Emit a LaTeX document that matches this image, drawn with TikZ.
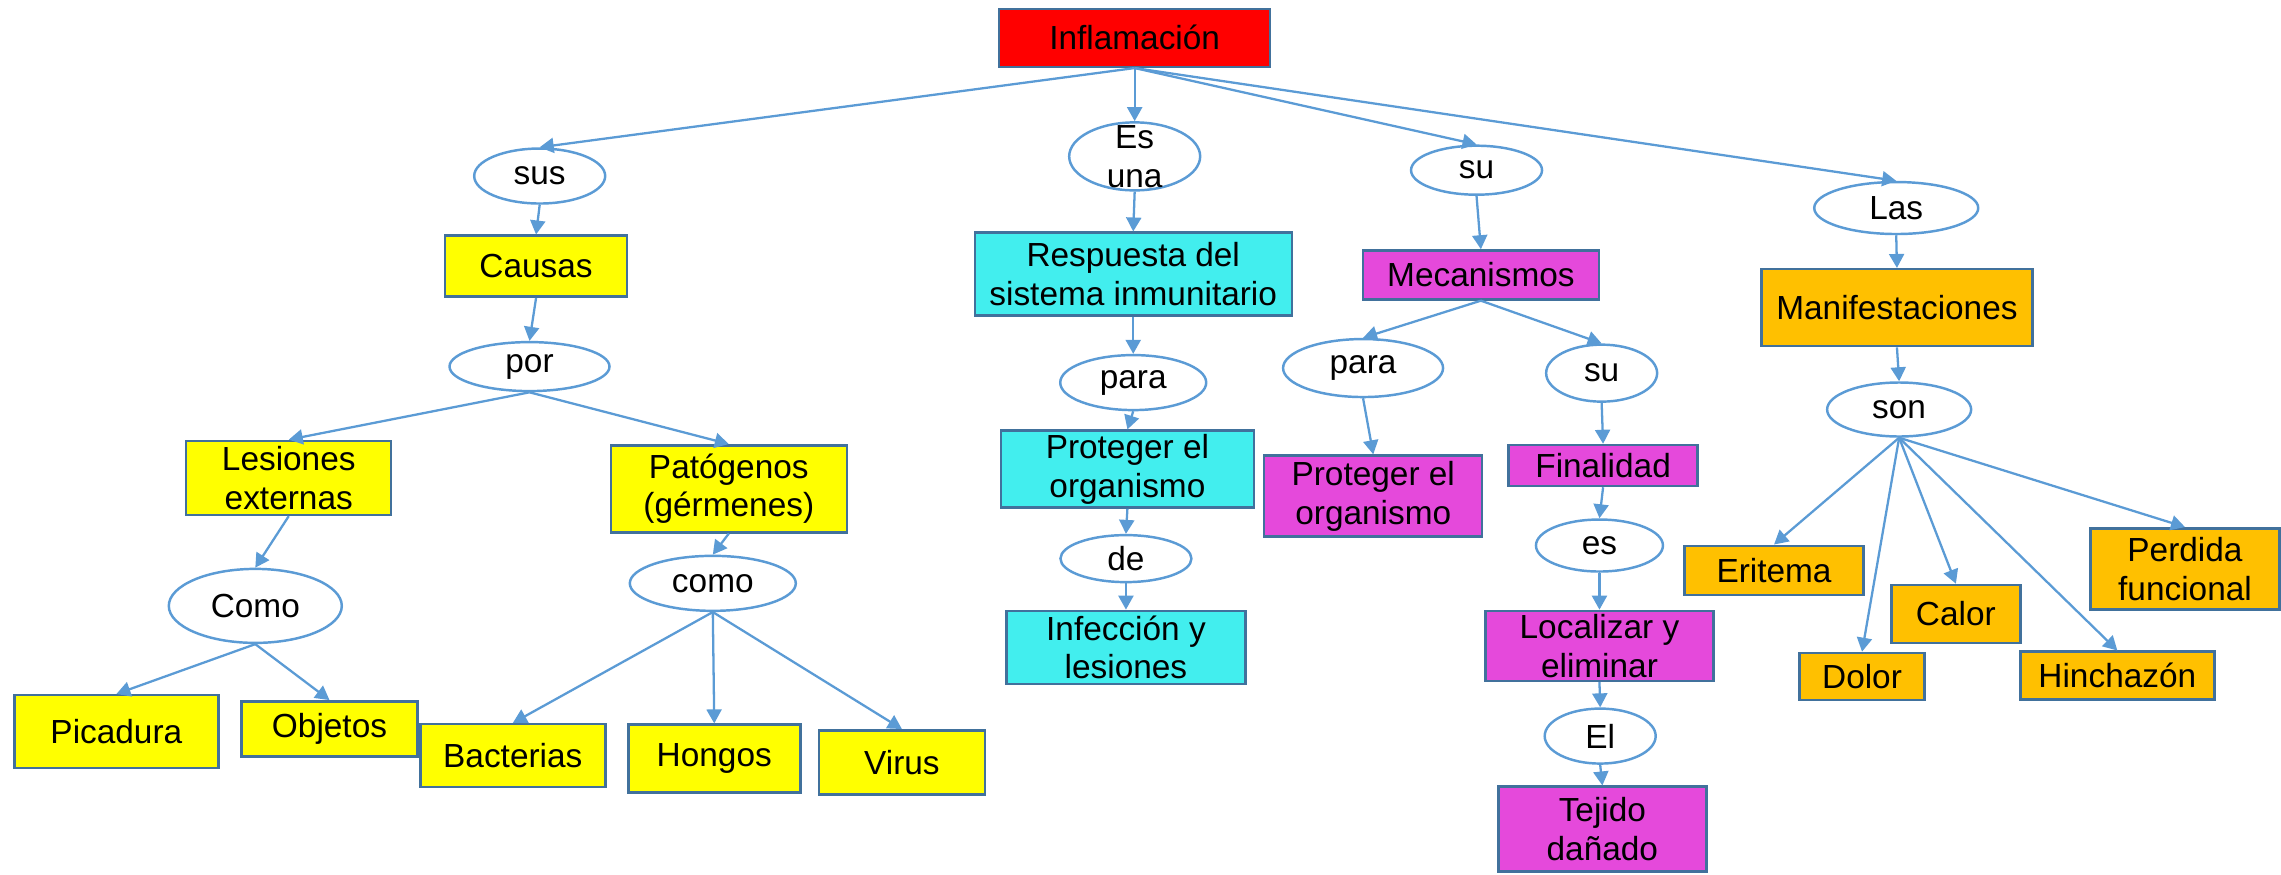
\documentclass[tikz,border=0pt]{standalone}
\usepackage{fontspec}
\setmainfont{Liberation Sans}
\usetikzlibrary{shapes.geometric,arrows.meta}
\definecolor{edgeblue}{HTML}{5B9BD5}
\definecolor{boxline}{HTML}{41719C}
\definecolor{rojo}{HTML}{FF0000}
\definecolor{amarillo}{HTML}{FFFF00}
\definecolor{cian}{HTML}{42EEEE}
\definecolor{fucsia}{HTML}{E549DB}
\definecolor{naranja}{HTML}{FFC000}

\begin{document}
\begin{tikzpicture}[x=0.14547mm,y=-0.14547mm,
	font=\fontsize{9.5}{11}\selectfont,
	concepto/.style={draw=boxline,line width=0.7pt,inner sep=0pt,align=center},
	enlace/.style={ellipse,draw=edgeblue,line width=0.7pt,fill=white,inner sep=0pt,align=center},
	flecha/.style={draw=edgeblue,line width=0.65pt,-{Triangle[length=1.4mm,width=1.5mm]}}]
	\useasboundingbox (0,0) rectangle (1568,601);
	
	% conceptos
	\node[concepto,fill=rojo,minimum width=27.1mm,minimum height=5.8mm] (infl) at (780,26) {Inflamación};
	\node[concepto,fill=amarillo,minimum width=18.2mm,minimum height=6.1mm] (causas) at (368.5,183) {Causas};
	\node[concepto,fill=cian,minimum width=31.7mm,minimum height=8.3mm] (resp) at (779,188.5) {Respuesta del\\sistema inmunitario};
	\node[concepto,fill=fucsia,minimum width=23.6mm,minimum height=4.9mm] (meca) at (1018,189) {Mecanismos};
	\node[concepto,fill=naranja,minimum width=27.1mm,minimum height=7.7mm] (mani) at (1304,211.5) {Manifestaciones};
	\node[concepto,fill=amarillo,minimum width=20.5mm,minimum height=7.4mm] (lesi) at (198.5,328.5) {Lesiones\\externas};
	\node[concepto,fill=amarillo,minimum width=23.6mm,minimum height=8.7mm] (pato) at (501,336) {Patógenos\\(gérmenes)};
	\node[concepto,fill=cian,minimum width=25.3mm,minimum height=7.7mm] (protc) at (775,322.5) {Proteger el\\organismo};
	\node[concepto,fill=fucsia,minimum width=21.8mm,minimum height=8.1mm] (protm) at (944,341) {Proteger el\\organismo};
	\node[concepto,fill=fucsia,minimum width=18.9mm,minimum height=4.1mm] (fina) at (1102,320) {Finalidad};
	\node[concepto,fill=fucsia,minimum width=22.8mm,minimum height=7.0mm] (loca) at (1099.5,444) {Localizar y\\eliminar};
	\node[concepto,fill=cian,minimum width=23.9mm,minimum height=7.3mm] (infe) at (774,445) {Infección y\\lesiones};
	\node[concepto,fill=naranja,minimum width=17.9mm,minimum height=4.9mm] (erit) at (1219.5,392) {Eritema};
	\node[concepto,fill=naranja,minimum width=12.9mm,minimum height=5.8mm] (calor) at (1344.5,422) {Calor};
	\node[concepto,fill=naranja,minimum width=18.9mm,minimum height=8.1mm] (perd) at (1502,391) {Perdida\\funcional};
	\node[concepto,fill=naranja,minimum width=12.5mm,minimum height=4.7mm] (dolor) at (1280,465) {Dolor};
	\node[concepto,fill=naranja,minimum width=19.4mm,minimum height=4.8mm] (hinc) at (1455.5,464.5) {Hinchazón};
	\node[concepto,fill=amarillo,minimum width=20.4mm,minimum height=7.3mm] (pica) at (80,503) {Picadura};
	\node[concepto,fill=amarillo,minimum width=17.6mm,minimum height=5.5mm] (obje) at (226.5,501) {Objetos};
	\node[concepto,fill=amarillo,minimum width=18.5mm,minimum height=6.3mm] (bact) at (352.5,519.5) {Bacterias};
	\node[concepto,fill=amarillo,minimum width=17.2mm,minimum height=6.8mm] (hong) at (491,521.5) {Hongos};
	\node[concepto,fill=amarillo,minimum width=16.6mm,minimum height=6.4mm] (virus) at (620,524) {Virus};
	\node[concepto,fill=fucsia,minimum width=20.8mm,minimum height=8.5mm] (teji) at (1101.5,570) {Tejido\\dañado};
	
	% palabras de enlace
	\node[enlace,minimum width=13.1mm,minimum height=5.5mm] (sus) at (371,121) {sus};
	\node[enlace,minimum width=13.1mm,minimum height=6.8mm,inner ysep=-0.9mm] (esuna) at (780,107.5) {Es\\una};
	\node[enlace,minimum width=13.1mm,minimum height=4.9mm] (su) at (1015,117) {su};
	\node[enlace,minimum width=16.4mm,minimum height=5.2mm] (las) at (1303.5,143) {Las};
	\node[enlace,minimum width=16.0mm,minimum height=4.9mm] (por) at (364,252) {por};
	\node[enlace,minimum width=14.6mm,minimum height=5.5mm] (parac) at (779,263) {para};
	\node[enlace,minimum width=16.0mm,minimum height=5.8mm] (param) at (937,253) {para};
	\node[enlace,minimum width=11.1mm,minimum height=5.7mm] (sudos) at (1101,256.5) {su};
	\node[enlace,minimum width=14.4mm,minimum height=5.4mm] (son) at (1305.5,281.5) {son};
	\node[enlace,minimum width=17.3mm,minimum height=7.4mm] (comoa) at (175.5,416.5) {Como};
	\node[enlace,minimum width=16.6mm,minimum height=5.5mm] (comob) at (490,401) {como};
	\node[enlace,minimum width=13.1mm,minimum height=4.7mm] (de) at (774,384) {de};
	\node[enlace,minimum width=12.7mm,minimum height=5.2mm] (es) at (1099.5,375) {es};
	\node[enlace,minimum width=11.1mm,minimum height=5.5mm] (el) at (1100,506) {El};
	
	% causas
	\draw[flecha] (infl.south) -- (sus.north);
	\draw[flecha] (sus.south) -- (causas.north);
	\draw[flecha] (causas.south) -- (por.north);
	\draw[flecha] (por.south) -- (lesi.north);
	\draw[flecha] (por.south) -- (pato.north);
	\draw[flecha] (lesi.south) -- (comoa.north);
	\draw[flecha] (comoa.south) -- (pica.north);
	\draw[flecha] (comoa.south) -- (obje.north);
	\draw[flecha] (pato.south) -- (comob.north);
	\draw[flecha] (comob.south) -- (bact.north);
	\draw[flecha] (comob.south) -- (hong.north);
	\draw[flecha] (comob.south) -- (virus.north);
	
	% respuesta
	\draw[flecha] (infl.south) -- (esuna.north);
	\draw[flecha] (esuna.south) -- (resp.north);
	\draw[flecha] (resp.south) -- (parac.north);
	\draw[flecha] (parac.south) -- (protc.north);
	\draw[flecha] (protc.south) -- (de.north);
	\draw[flecha] (de.south) -- (infe.north);
	
	% mecanismos
	\draw[flecha] (infl.south) -- (su.north);
	\draw[flecha] (su.south) -- (meca.north);
	\draw[flecha] (meca.south) -- (param.north);
	\draw[flecha] (meca.south) -- (sudos.north);
	\draw[flecha] (param.south) -- (protm.north);
	\draw[flecha] (sudos.south) -- (fina.north);
	\draw[flecha] (fina.south) -- (es.north);
	\draw[flecha] (es.south) -- (loca.north);
	\draw[flecha] (loca.south) -- (el.north);
	\draw[flecha] (el.south) -- (teji.north);
	
	% manifestaciones
	\draw[flecha] (infl.south) -- (las.north);
	\draw[flecha] (las.south) -- (mani.north);
	\draw[flecha] (mani.south) -- (son.north);
	\draw[flecha] (son.south) -- (erit.north);
	\draw[flecha] (son.south) -- (dolor.north);
	\draw[flecha] (son.south) -- (calor.north);
	\draw[flecha] (son.south) -- (hinc.north);
	\draw[flecha] (son.south) -- (perd.north);
\end{tikzpicture}
\end{document}
